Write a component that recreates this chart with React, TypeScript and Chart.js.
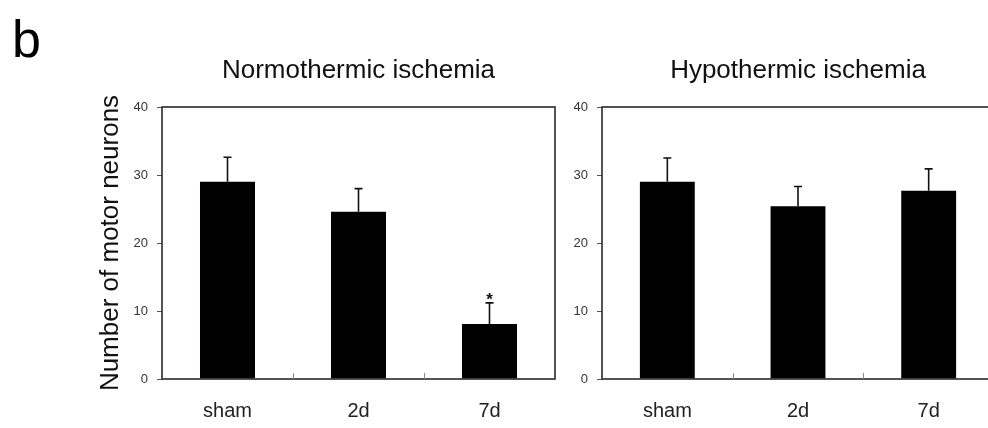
import React, { useEffect, useRef } from "react";
import { Chart, registerables } from "chart.js";

Chart.register(...registerables);

const categories = ["sham", "2d", "7d"];
const normoMeans = [29.0, 24.6, 8.1];
const normoErr = [3.6, 3.4, 3.1];
const normoMarks = ["", "", "*"];
const hypoMeans = [29.0, 25.4, 27.7];
const hypoErr = [3.5, 2.9, 3.2];
const hypoMarks = ["", "", ""];
const yMin = 0;
const yMax = 40;
const yStep = 10;
const panelLabel = "b";
const normoTitle = "Normothermic ischemia";
const hypoTitle = "Hypothermic ischemia";
const yTitle = "Number of motor neurons";

const FONT = "'Liberation Sans', Arial, Helvetica, sans-serif";

function makeDecor(errs: number[], marks: string[], letter: string) {
  return {
    id: "decor",
    afterDatasetsDraw(chart: any) {
      const { ctx, chartArea } = chart;
      const xs = chart.scales.x;
      const ys = chart.scales.y;
      const means = chart.data.datasets[0].data as number[];
      ctx.save();
      // frame
      ctx.strokeStyle = "#2a2a2a";
      ctx.lineWidth = 1.6;
      ctx.strokeRect(chartArea.left, chartArea.top, chartArea.right - chartArea.left, chartArea.bottom - chartArea.top);
      // inward ticks between categories
      ctx.strokeStyle = "#888";
      ctx.lineWidth = 1;
      for (let i = 0; i < means.length - 1; i++) {
        const x = Math.round((xs.getPixelForValue(i) + xs.getPixelForValue(i + 1)) / 2) + 0.5;
        ctx.beginPath();
        ctx.moveTo(x, chartArea.bottom);
        ctx.lineTo(x, chartArea.bottom - 6);
        ctx.stroke();
      }
      // error bars
      ctx.strokeStyle = "#111";
      ctx.lineWidth = 1.6;
      for (let i = 0; i < means.length; i++) {
        const x = xs.getPixelForValue(i);
        const y0 = ys.getPixelForValue(means[i]);
        const y1 = ys.getPixelForValue(means[i] + errs[i]);
        ctx.beginPath();
        ctx.moveTo(x, y0);
        ctx.lineTo(x, y1);
        ctx.moveTo(x - 4, y1);
        ctx.lineTo(x + 4, y1);
        ctx.stroke();
        if (marks[i]) {
          ctx.fillStyle = "#111";
          ctx.font = `bold 17px ${FONT}`;
          ctx.textAlign = "center";
          ctx.textBaseline = "alphabetic";
          ctx.fillText(marks[i], x, y1 + 2);
        }
      }
      if (letter) {
        ctx.fillStyle = "#000";
        ctx.font = `52px ${FONT}`;
        ctx.textAlign = "left";
        ctx.textBaseline = "alphabetic";
        ctx.fillText(letter, 12, 57);
      }
      ctx.restore();
    },
  };
}

function makeConfig(
  means: number[],
  errs: number[],
  marks: string[],
  title: string,
  yAxisWidth: number,
  rightPad: number,
  showYTitle: boolean,
  letter: string
): any {
  return {
    type: "bar",
    data: {
      labels: categories,
      datasets: [
        {
          data: means,
          backgroundColor: "#000",
          borderColor: "#222",
          borderWidth: 0,
          barPercentage: 0.42,
          categoryPercentage: 1,
        },
      ],
    },
    options: {
      responsive: false,
      animation: false,
      devicePixelRatio: 1,
      layout: { padding: { left: 0, right: rightPad, top: 0, bottom: 0 } },
      plugins: {
        legend: { display: false },
        tooltip: { enabled: false },
        title: {
          display: true,
          text: title,
          fullSize: false,
          color: "#111",
          font: { size: 26, family: FONT, weight: "normal" },
          padding: { top: 55, bottom: 20.8 },
        },
      },
      scales: {
        x: {
          type: "category",
          offset: true,
          grid: { display: false, drawTicks: false },
          border: { display: false },
          ticks: {
            color: "#222",
            font: { size: 20, family: FONT },
            padding: 20,
            maxRotation: 0,
          },
          afterFit(scale: any) {
            scale.height = 49;
          },
        },
        y: {
          min: yMin,
          max: yMax,
          grid: {
            drawOnChartArea: false,
            drawTicks: true,
            tickLength: 5,
            color: "#555",
            lineWidth: 1,
          },
          border: { display: false },
          ticks: {
            stepSize: yStep,
            color: "#333",
            font: { size: 13, family: FONT },
            padding: 9,
          },
          title: {
            display: showYTitle,
            text: yTitle,
            color: "#111",
            font: { size: 26, family: FONT, weight: "normal" },
            padding: { top: 95, bottom: 0 },
          },
          afterFit(scale: any) {
            scale.width = yAxisWidth;
          },
        },
      },
    },
    plugins: [makeDecor(errs, marks, letter)],
  };
}

export default function App() {
  const ref1 = useRef<HTMLCanvasElement | null>(null);
  const ref2 = useRef<HTMLCanvasElement | null>(null);

  useEffect(() => {
    Chart.defaults.font.family = FONT;
    const c1 = new Chart(
      ref1.current as HTMLCanvasElement,
      makeConfig(normoMeans, normoErr, normoMarks, normoTitle, 162, 15, true, panelLabel)
    );
    const c2 = new Chart(
      ref2.current as HTMLCanvasElement,
      makeConfig(hypoMeans, hypoErr, hypoMarks, hypoTitle, 32, 16, false, "")
    );
    return () => {
      c1.destroy();
      c2.destroy();
    };
  }, []);

  return (
    <div
      style={{
        position: "absolute",
        left: 0,
        top: 0,
        width: 988,
        height: 428,
        overflow: "hidden",
        background: "#fff",
      }}
    >
      <canvas
        ref={ref1}
        width={570}
        height={428}
        style={{ position: "absolute", left: 0, top: 0, width: 570, height: 428 }}
      />
      <canvas
        ref={ref2}
        width={440}
        height={428}
        style={{ position: "absolute", left: 570, top: 0, width: 440, height: 428 }}
      />
    </div>
  );
}
